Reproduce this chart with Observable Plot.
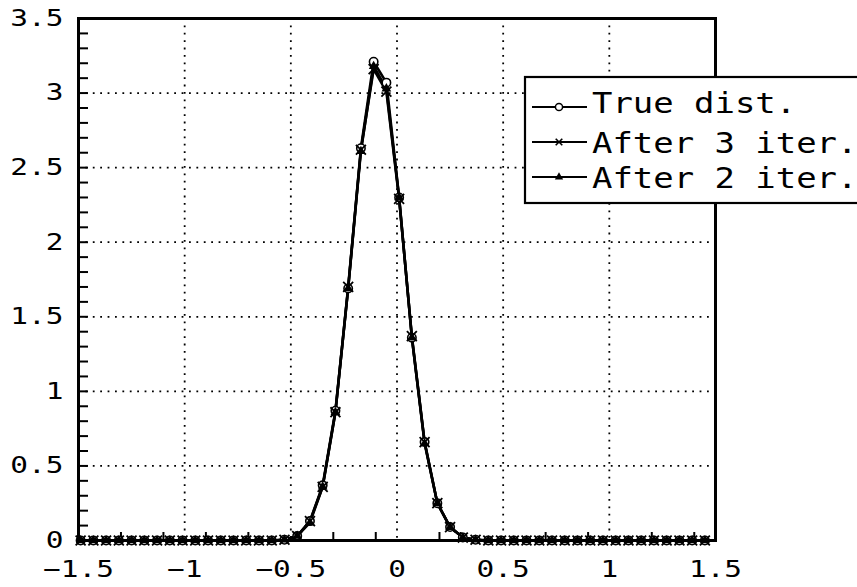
<!DOCTYPE html>
<html><head><meta charset="utf-8">
<script src="https://cdn.jsdelivr.net/npm/d3@7"></script>
<script src="https://cdn.jsdelivr.net/npm/@observablehq/plot@0.6"></script>
<style>
html,body{margin:0;padding:0;background:#fff;overflow:hidden}
svg{display:block}
</style></head><body><div id="chart"></div>
<script>
// ---- data ----
const xs = [-1.49,-1.43,-1.37,-1.31,-1.25,-1.19,-1.13,-1.07,-1.01,-0.95,-0.89,-0.83,-0.77,-0.71,-0.65,-0.59,-0.53,-0.47,-0.41,-0.35,-0.29,-0.23,-0.17,-0.11,-0.05,0.01,0.07,0.13,0.19,0.25,0.31,0.37,0.43,0.49,0.55,0.61,0.67,0.73,0.79,0.85,0.91,0.97,1.03,1.09,1.15,1.21,1.27,1.33,1.39,1.45];
const trueDist = [0,0,0,0,0,0,0,0,0,0,0,0,0,0,0,0,0.005,0.03,0.13,0.37,0.87,1.69,2.63,3.21,3.07,2.30,1.36,0.66,0.25,0.09,0.02,0.005,0,0,0,0,0,0,0,0,0,0,0,0,0,0,0,0,0,0];
const after3 = [0,0,0,0,0,0,0,0,0,0,0,0,0,0,0,0,0.005,0.03,0.13,0.36,0.86,1.70,2.62,3.16,3.01,2.29,1.37,0.66,0.25,0.09,0.02,0.005,0,0,0,0,0,0,0,0,0,0,0,0,0,0,0,0,0,0];
const after2 = [0,0,0,0,0,0,0,0,0,0,0,0,0,0,0,0,0.005,0.03,0.12,0.36,0.86,1.69,2.61,3.18,3.03,2.30,1.36,0.65,0.25,0.09,0.02,0.005,0,0,0,0,0,0,0,0,0,0,0,0,0,0,0,0,0,0];
const seriesNames = ["True dist.", "After 3 iter.", "After 2 iter."];
const xTicks = [-1.5,-1,-0.5,0,0.5,1,1.5];
const yTicks = [0,0.5,1,1.5,2,2.5,3,3.5];
const xGrid = [-1,-0.5,0,0.5,1];
const yGrid = [0.5,1,1.5,2,2.5,3];
const xMinor = [-1.3,-1.1,-0.9,-0.7,-0.3,-0.1,0.2,0.3,0.7,0.9,1.2,1.4];
const yMinor = [0.1,0.2,0.3,0.4,0.6,0.7,0.8,0.9,1.1,1.2,1.3,1.4,1.6,1.7,1.8,1.9,2.1,2.2,2.3,2.4,2.6,2.7,2.8,2.9,3.1,3.2,3.3,3.4,0.5,1,1.5,2,2.5,3];

// ---- table ----
const series = [trueDist, after3, after2];
const rows = xs.flatMap((x, i) => series.map((s, j) => ({series: seriesNames[j], x, y: s[i]})));
const byName = n => rows.filter(d => d.series === n);
const fmt = d => d < 0 ? "\u2212" + String(-d) : String(d);

const W = 857, H = 587;
const plot = Plot.plot({
  width: W, height: H,
  marginLeft: 78, marginRight: 142, marginTop: 18, marginBottom: 47,
  style: {fontFamily: "'DejaVu Sans Mono', monospace", background: "white", color: "black", overflow: "visible"},
  x: {domain: [-1.5, 1.5], axis: null},
  y: {domain: [0, 3.5], axis: null},
  marks: [
    Plot.ruleX(xGrid, {stroke: "black", strokeWidth: 1.8, strokeDasharray: "1.8,5.6"}),
    Plot.ruleY(yGrid, {stroke: "black", strokeWidth: 1.8, strokeDasharray: "1.8,5.6"}),
    Plot.axisX({ticks: xMinor, tickSize: -8, text: null, label: null, strokeWidth: 2, anchor: "bottom"}),
    Plot.axisY({ticks: yMinor, tickSize: -10, text: null, label: null, strokeWidth: 2, anchor: "left"}),
    Plot.axisX({ticks: xTicks, tickSize: 0, tickPadding: 20, fontSize: 23, anchor: "bottom", label: null, tickFormat: fmt}),
    Plot.text(yTicks, {y: d => d, text: fmt, frameAnchor: "left", textAnchor: "end", dx: -15, fontSize: 23, fill: "black"}),
    Plot.line(rows, {x: "x", y: "y", z: "series", stroke: "black", strokeWidth: 2.6}),
    Plot.dot(byName("True dist."), {x: "x", y: "y", symbol: "circle", r: 4.2, fill: "white", stroke: "black", strokeWidth: 1.6}),
    Plot.dot(byName("After 2 iter."), {x: "x", y: "y", symbol: "triangle", r: 3.6, fill: "black"}),
    Plot.dot(byName("After 3 iter."), {x: "x", y: "y", symbol: "times", r: 4.6, stroke: "black", strokeWidth: 1.8}),
    Plot.frame({stroke: "black", strokeWidth: 3})
  ]
});
document.getElementById("chart").appendChild(plot);

// widen the tick label glyphs horizontally (plotter-style wide font)
function widen(el, s) {
  const xa = el.getAttribute("x");
  if (xa !== null && isFinite(+xa)) el.setAttribute("x", +xa / s);
  const t = el.getAttribute("transform") || "";
  el.setAttribute("transform", `${t} scale(${s},1)`);
}
d3.select(plot).selectAll("text").each(function() { widen(this, 1.28); });

// ---- legend ----
const svg = d3.select(plot);
const lg = svg.append("g").attr("font-family", "'DejaVu Sans Mono', monospace").attr("font-size", 29)
  .attr("text-anchor", "start");
lg.append("rect").attr("x", 525).attr("y", 77).attr("width", 360).attr("height", 126)
  .attr("fill", "white").attr("stroke", "black").attr("stroke-width", 2.2);
const legendLineY = [107, 142, 177];
const legendTextY = [113, 153, 188];
const symbols = [d3.symbolCircle, d3.symbolTimes, d3.symbolTriangle];
seriesNames.forEach((name, i) => {
  const y = legendLineY[i];
  lg.append("line").attr("x1", 532).attr("x2", 587).attr("y1", y).attr("y2", y).attr("stroke", "black").attr("stroke-width", 1.8);
  const sym = lg.append("path").attr("transform", `translate(559,${y})`);
  if (i === 0) sym.attr("d", d3.symbol(symbols[i], 40)).attr("fill", "white").attr("stroke", "black").attr("stroke-width", 1.5);
  if (i === 1) sym.attr("d", d3.symbol(symbols[i], 30)).attr("fill", "none").attr("stroke", "black").attr("stroke-width", 1.6);
  if (i === 2) sym.attr("d", d3.symbol(symbols[i], 30)).attr("fill", "black");
  lg.append("text").attr("transform", `translate(592,${legendTextY[i]}) scale(1.17,1)`).attr("fill", "black").text(name);
});
</script>
</body></html>
